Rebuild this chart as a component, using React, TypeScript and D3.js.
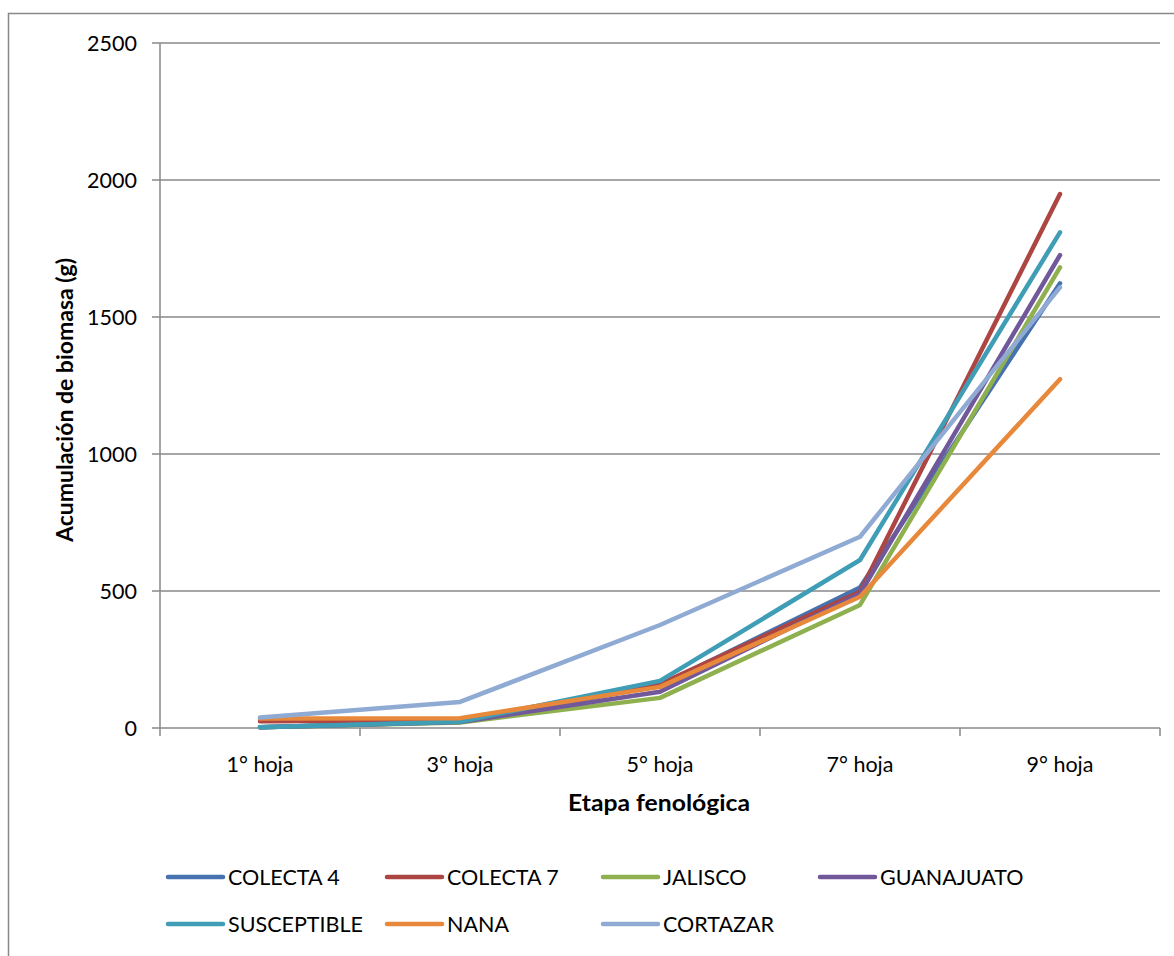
import React from "react";
import * as d3 from "d3";

const categories = ["1° hoja", "3° hoja", "5° hoja", "7° hoja", "9° hoja"];
const seriesNames = ["COLECTA 4", "COLECTA 7", "JALISCO", "GUANAJUATO", "SUSCEPTIBLE", "NANA", "CORTAZAR"];
const colecta4 = [3, 22, 155, 513, 1623];
const colecta7 = [25, 28, 160, 497, 1949];
const jalisco = [3, 20, 110, 449, 1681];
const guanajuato = [3, 22, 132, 490, 1726];
const susceptible = [3, 23, 172, 613, 1809];
const nana = [35, 36, 150, 479, 1273];
const cortazar = [38, 95, 376, 698, 1608];
const seriesValues = [colecta4, colecta7, jalisco, guanajuato, susceptible, nana, cortazar];
const seriesColors = ["#4672AF", "#AD4542", "#8FB04F", "#71589A", "#3F9DB6", "#E8883A", "#8FAAD3"];
const yTicks = [0, 500, 1000, 1500, 2000, 2500];

const FONT = "Lato, 'Open Sans', sans-serif";

export default function App() {
  const W = 1174, H = 956;
  const x0 = 160, x1 = 1160, yTop = 43, yBot = 728;
  const x = d3.scaleBand<string>().domain(categories).range([x0, x1]);
  const y = d3.scaleLinear().domain([0, 2500]).range([yBot, yTop]);
  const line = d3.line<number>()
    .x((_, i) => (x(categories[i]) as number) + x.bandwidth() / 2)
    .y((d) => y(d));
  const tickXs = [...categories.map((c) => x(c) as number), x1];

  const legendPos = [
    [168, 877], [387, 877], [603, 877], [820, 877],
    [168, 924], [387, 924], [603, 924],
  ];

  return (
    <svg width={W} height={H} style={{ position: "absolute", left: 0, top: 0 }} fontFamily={FONT}>
      <rect x={0} y={0} width={W} height={H} fill="#fff" />
      <rect x={8.5} y={13.5} width={1170} height={960} fill="none" stroke="#888" strokeWidth={1.5} />
      {yTicks.map((t) => (
        <g key={t}>
          <line x1={x0 - 8} x2={x1} y1={y(t)} y2={y(t)} stroke="#888" strokeWidth={1.5} />
          <text x={137} y={y(t)} dy="0.35em" textAnchor="end" fontSize={21.5} fill="#000">{t}</text>
        </g>
      ))}
      <line x1={x0} x2={x0} y1={yTop} y2={yBot} stroke="#888" strokeWidth={1.5} />
      {tickXs.map((tx, i) => (
        <line key={i} x1={tx} x2={tx} y1={yBot} y2={yBot + 8} stroke="#888" strokeWidth={1.5} />
      ))}
      {categories.map((c) => (
        <text key={c} x={(x(c) as number) + x.bandwidth() / 2} y={772} textAnchor="middle" fontSize={21.5} fill="#000">{c}</text>
      ))}
      <text x={659} y={811} textAnchor="middle" fontSize={23} fontWeight="bold" fill="#000" textLength={182} lengthAdjust="spacingAndGlyphs">Etapa fenológica</text>
      <text transform={`translate(73,400) rotate(-90)`} textAnchor="middle" fontSize={23} fontWeight="bold" fill="#000" textLength={284} lengthAdjust="spacingAndGlyphs">Acumulación de biomasa (g)</text>
      {seriesValues.map((vals, i) => (
        <path key={i} d={line(vals) as string} fill="none" stroke={seriesColors[i]} strokeWidth={4.5} strokeLinecap="round" strokeLinejoin="round" />
      ))}
      {seriesNames.map((n, i) => (
        <g key={n}>
          <line x1={legendPos[i][0]} x2={legendPos[i][0] + 55} y1={legendPos[i][1]} y2={legendPos[i][1]} stroke={seriesColors[i]} strokeWidth={4.5} strokeLinecap="round" />
          <text x={legendPos[i][0] + 60} y={legendPos[i][1]} dy="0.35em" fontSize={21.5} fill="#000">{n}</text>
        </g>
      ))}
    </svg>
  );
}
